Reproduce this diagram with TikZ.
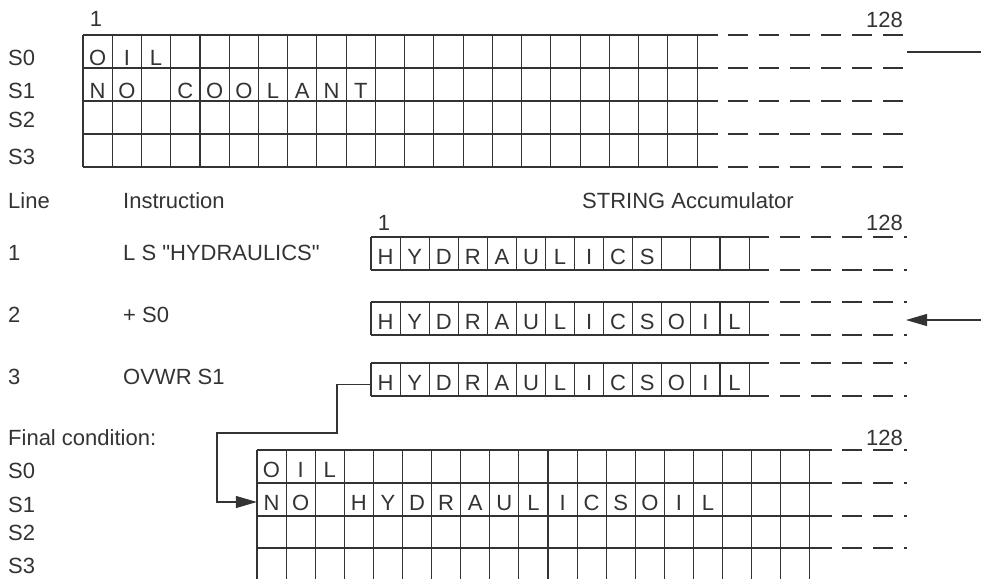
\documentclass[tikz,border=0pt]{standalone}
\usepackage{fontspec}
\setmainfont{Liberation Sans}
\usetikzlibrary{arrows.meta,positioning}
\definecolor{ink}{HTML}{333333}

\begin{document}
\begin{tikzpicture}[x=1pt, y=-1pt, >={Triangle[length=21pt,width=12pt]},
  every node/.style={font=\fontsize{22}{26}\selectfont, text=ink, inner sep=0pt},
  rule/.style={draw=ink, line width=1.1pt},
  tail/.style={draw=ink, line width=1.1pt, dash pattern=on 20pt off 11pt},
  letter/.style={minimum width=29pt, minimum height=33pt, text height=21pt, text depth=0pt},
  label/.style={anchor=base west}]
  \useasboundingbox (0,0) rectangle (981,579);

  % strings S0 to S3
  \foreach \y in {35,68,101,134,167} {
    \draw[rule] (83,\y) -- (718,\y);
    \draw[tail] (728,\y) -- (903,\y);
  }
  \foreach \i in {0,...,21} \draw[rule] ({83+\i*29.24},35) -- ++(0,132);
  \foreach \ch [count=\c from 0] in {O,I,L}
    \node[letter, text height=27pt] (s0-\c) at ({83+(\c+0.5)*29.24},51.5) {\ch};
  \foreach \ch [count=\c from 0] in {N,O,{},C,O,O,L,A,N,T}
    \node[letter, text height=27pt] (s1-\c) at ({83+(\c+0.5)*29.24},84.5) {\ch};
  \node[anchor=base] (one) at (96,26) {1};
  \node[anchor=base east] (last) at (903,27) {128};
  \node[label] (ls0) at (8,65) {S0};
  \node[label] (ls1) at (8,98) {S1};
  \node[label] (ls2) at (8,127) {S2};
  \node[label] (ls3) at (8,164) {S3};
  \coordinate (outA) at (907,52);
  \coordinate (outB) at (981,52);
  \draw[rule] (outA) -- (outB);

  % program and accumulator
  \node[label] (hline) at (8,208) {Line};
  \node[label] (hinstr) at (123,208) {Instruction};
  \node[label] (hacc) at (582,208) {STRING Accumulator};
  \node[anchor=base] (aone) at (384,230) {1};
  \node[anchor=base east] (alast) at (903,230) {128};
  \node[label] (n1) at (8,260) {1};
  \node[label] (i1) at (123,260) {L S \textquotedbl HYDRAULICS\textquotedbl};
  \node[label] (n2) at (8,322) {2};
  \node[label] (i2) at (123,322) {+ S0};
  \node[label] (n3) at (8,384) {3};
  \node[label] (i3) at (123,384) {OVWR S1};
  \foreach \t in {237,302,363} {
    \draw[rule] (371,\t) -- (769,\t);
    \draw[rule] (371,\t+33) -- (769,\t+33);
    \draw[tail] (780,\t) -- (907,\t);
    \draw[tail] (780,\t+33) -- (907,\t+33);
    \foreach \i in {0,...,13} \draw[rule] ({371+\i*29.08},\t) -- ++(0,33);
  }
  \foreach \ch [count=\c from 0] in {H,Y,D,R,A,U,L,I,C,S}
    \node[letter] (a0-\c) at ({371+(\c+0.5)*29.08},253.5) {\ch};
  \foreach \ch [count=\c from 0] in {H,Y,D,R,A,U,L,I,C,S,O,I,L}
    \node[letter] (a1-\c) at ({371+(\c+0.5)*29.08},318.5) {\ch};
  \foreach \ch [count=\c from 0] in {H,Y,D,R,A,U,L,I,C,S,O,I,L}
    \node[letter] (a2-\c) at ({371+(\c+0.5)*29.08},379.5) {\ch};
  \coordinate (inA) at (981,320);
  \coordinate (inB) at (906,320);
  \draw[rule,->] (inA) -- (inB);

  % final condition
  \node[label] (hfinal) at (8,445) {Final condition:};
  \node[anchor=base east] (flast) at (903,445) {128};
  \node[label] (fs0) at (8,478) {S0};
  \node[label] (fs1) at (8,512) {S1};
  \node[label] (fs2) at (8,540) {S2};
  \node[label] (fs3) at (8,573) {S3};
  \foreach \y in {450,483,516,548} {
    \draw[rule] (257,\y) -- (832,\y);
    \draw[tail] (842,\y) -- (907,\y);
  }
  \foreach \i in {0,...,19} \draw[rule] ({257+\i*29.1},450) -- (257+\i*29.1,579);
  \foreach \ch [count=\c from 0] in {O,I,L}
    \node[letter] (f0-\c) at ({257+(\c+0.5)*29.1},466.5) {\ch};
  \foreach \ch [count=\c from 0] in {N,O,{},H,Y,D,R,A,U,L,I,C,S,O,I,L}
    \node[letter] (f1-\c) at ({257+(\c+0.5)*29.1},499.5) {\ch};
  \coordinate (k1) at (337,433);
  \coordinate (k2) at (217,433);
  \draw[rule,->] ([yshift=-5pt]a2-0.west) -| (k1) -- (k2) |- ([yshift=-2.5pt]f1-0.west);
\end{tikzpicture}
\end{document}
